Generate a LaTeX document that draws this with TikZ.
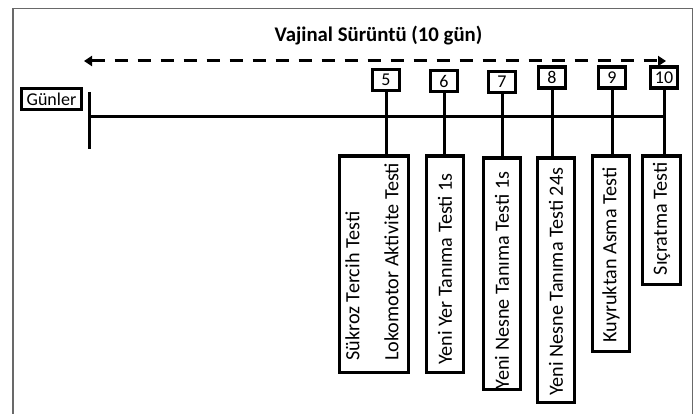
\documentclass[tikz,border=0pt]{standalone}
\usepackage{fontspec}
\setmainfont{Carlito}
\usetikzlibrary{arrows.meta}
\definecolor{framegray}{RGB}{105,105,105}
\tikzset{
  daybox/.style={draw, line width=3.4pt, inner sep=0pt, minimum width=27pt,
    minimum height=21pt, font=\fontsize{18}{20}\selectfont},
  testbox/.style={draw, line width=3.4pt, rotate=90, anchor=east, inner ysep=0pt,
    font=\fontsize{20.2}{24}\selectfont},
  axisline/.style={line width=3pt},
  link/.style={line width=3pt},
  period/.style={line width=3pt, dash pattern=on 13pt off 10pt,
    {Triangle[length=8pt,width=10pt]}-{Triangle[length=8pt,width=10pt]}},
}
\begin{document}
\begin{tikzpicture}[x=1pt,y=-1pt]
\useasboundingbox (0,0) rectangle (696,414);

% outer frame (open at the bottom)
\draw[framegray, line width=1.5pt] (13,414) -- (13,8.7) -- (692.7,8.7) -- (692.7,414);

% title and the dashed period arrow
\node[font=\fontsize{20.8}{24}\selectfont\bfseries, anchor=base] (title) at (378.5,41.7)
  {Vajinal Sürüntü (10 gün)};
\coordinate (arrL) at (84,61);
\coordinate (arrR) at (666,61);
\draw[period] (arrL) -- (arrR);

% day axis
\node[draw, line width=3.4pt, inner sep=0pt, minimum width=60pt, minimum height=21pt,
  font=\fontsize{18}{20}\selectfont] (days) at (51.5,99) {Günler};
\coordinate (tickTop) at (89,92);
\coordinate (tickBot) at (89,149);
\coordinate (axisL) at (89,117);
\draw[axisline] (tickTop) -- (tickBot);

% day numbers
\node[daybox] (n5)  at (386,80)   {5};
\node[daybox] (n6)  at (444,81)   {6};
\node[daybox] (n7)  at (502,82)   {7};
\node[daybox] (n8)  at (552,77.5) {8};
\node[daybox] (n9)  at (612,77.5) {9};
\node[daybox] (n10) at (664,77.5) {10};

\draw[axisline] (axisL) -- (n10.south |- axisL);

% tests performed on each day (text runs upwards from the lower end)
\node[testbox, minimum width=216pt, minimum height=69pt, inner xsep=11.5pt]
  (t5) at (374,154.5) {\makebox[193pt][l]{\begin{tabular}{@{}l@{}}Sükroz Tercih Testi\\[15pt]Lokomotor Aktivite Testi\end{tabular}}};
\node[testbox, minimum width=216pt, minimum height=37pt, inner xsep=7.5pt]
  (t6) at (445,154.5) {\makebox[201pt][l]{Yeni Yer Tanıma Testi 1s}};
\node[testbox, minimum width=231pt, minimum height=37pt, inner xsep=0pt]
  (t7) at (502,156.5) {\makebox[231pt][l]{Yeni Nesne Tanıma Testi 1s}};
\node[testbox, minimum width=244pt, minimum height=37pt, inner xsep=6.5pt]
  (t8) at (556,156.5) {\makebox[231pt][l]{Yeni Nesne Tanıma Testi 24s}};
\node[testbox, minimum width=195pt, minimum height=37pt, inner xsep=8.5pt]
  (t9) at (611,154.5) {\makebox[178pt][l]{Kuyruktan Asma Testi}};
\node[testbox, minimum width=128pt, minimum height=38pt, inner xsep=9pt]
  (t10) at (661.5,154.5) {\makebox[110pt][l]{Sıçratma Testi}};

% links from each day to its tests
\draw[link] (n5.south)  -- (n5.south |- t5.east);
\draw[link] (n6.south)  -- (n6.south |- t6.east);
\draw[link] (n7.south)  -- (n7.south |- t7.east);
\draw[link] (n8.south)  -- (n8.south |- t8.east);
\draw[link] (n9.south)  -- (n9.south |- t9.east);
\draw[link] (n10.south) -- (n10.south |- t10.east);
\end{tikzpicture}
\end{document}
